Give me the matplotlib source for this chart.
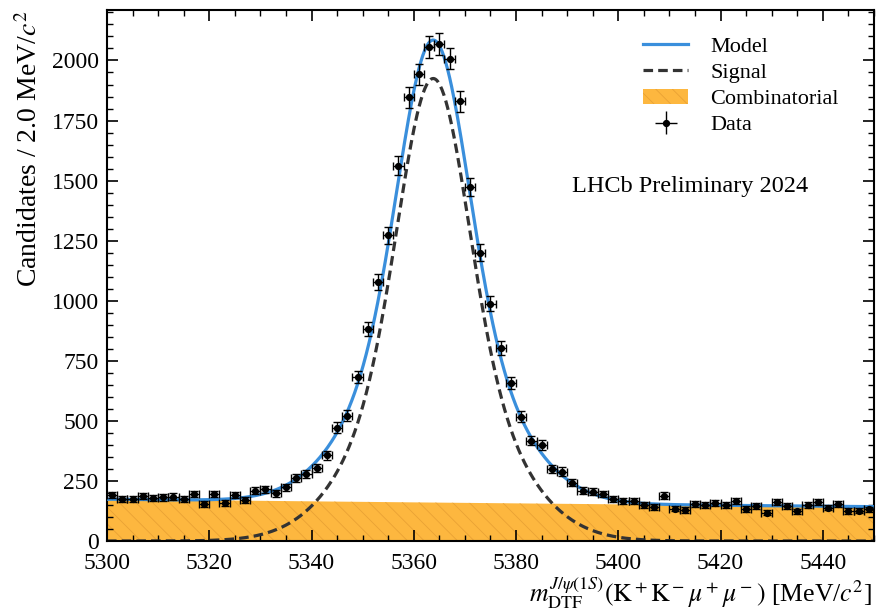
import numpy as np
import matplotlib
matplotlib.use("Agg")
import matplotlib.pyplot as plt
from matplotlib.ticker import MultipleLocator
from matplotlib.patches import Patch
from matplotlib.lines import Line2D

plt.rcParams['font.family'] = ['Liberation Serif', 'DejaVu Serif']
plt.rcParams['mathtext.fontset'] = 'stix'
plt.rcParams['hatch.linewidth'] = 0.6

# ---- data (bin centres, 2 MeV bins) ----
bin_centres = np.arange(5301, 5450, 2)
counts = [192, 175, 174, 187, 178, 182, 185, 174, 196, 154,
          196, 157, 192, 171, 210, 215, 199, 224, 261, 279,
          305, 357, 472, 521, 683, 882, 1078, 1272, 1562, 1847,
          1942, 2055, 2068, 2008, 1830, 1474, 1200, 988, 803, 657,
          518, 418, 400, 299, 289, 243, 210, 205, 196, 175,
          167, 165, 150, 143, 189, 135, 129, 153, 150, 157,
          150, 167, 133, 146, 118, 164, 147, 124, 150, 163,
          139, 153, 125, 126, 132]
bin_halfwidth = 1.0

# ---- fit model parameters ----
sig_mean = 5363.8
sig_sigma_core = 6.5
sig_sigma_wide = 13.0
sig_core_frac = 0.6
sig_peak = 1925.0
comb_start = 174.0     # combinatorial level at 5300
comb_end = 143.0       # combinatorial level at 5450

x_min, x_max = 5300, 5450
y_max = 2210

counts = np.array(counts, dtype=float)
errors = np.sqrt(counts)

xs = np.linspace(x_min, x_max, 800)
k = np.log(comb_start / comb_end) / (x_max - x_min)
comb = comb_start * np.exp(-k * (xs - x_min))
d = xs - sig_mean
signal = sig_peak * (sig_core_frac * np.exp(-d**2 / (2 * sig_sigma_core**2))
                     + (1 - sig_core_frac) * np.exp(-d**2 / (2 * sig_sigma_wide**2)))
model = signal + comb

fig = plt.figure(figsize=(8.79, 6.15), dpi=100)
ax = fig.add_axes([0.1217, 0.1203, 0.8726, 0.8634])

orange = '#FDB73F'
blue = '#3A8FDC'
dash = (0, (3.0, 1.6))
ax.fill_between(xs, 0, comb, facecolor=orange, edgecolor='#E9A235',
                hatch='\\\\', linewidth=0, zorder=1)
ax.plot(xs, signal, color='#333333', lw=2.3, ls=dash, zorder=2)
ax.plot(xs, model, color=blue, lw=2.3, zorder=3)
ax.errorbar(bin_centres, counts, yerr=errors, xerr=bin_halfwidth, fmt='o',
            color='black', ms=4.2, elinewidth=1.0, capsize=2.6, capthick=1.0,
            zorder=4)

ax.set_xlim(x_min, x_max)
ax.set_ylim(0, y_max)
ax.xaxis.set_major_locator(MultipleLocator(20))
ax.xaxis.set_minor_locator(MultipleLocator(5))
ax.yaxis.set_major_locator(MultipleLocator(250))
ax.yaxis.set_minor_locator(MultipleLocator(50))
ax.tick_params(which='both', direction='in', top=True, right=True, labelsize=17)
ax.tick_params(which='major', length=8, width=1.2)
ax.tick_params(which='minor', length=4.5, width=1.0)
ax.tick_params(axis='y', pad=6)
ax.tick_params(axis='x', pad=8.5)
for s in ax.spines.values():
    s.set_linewidth(1.5)

ax.set_ylabel(r'Candidates / 2.0 MeV/$c^2$', fontsize=20)
ax.yaxis.set_label_coords(-0.083, 1.0)
ax.yaxis.label.set_horizontalalignment('right')
ax.set_xlabel(r'$m_{\mathrm{DTF}}^{J/\psi(1S)}(\mathrm{K}^+\mathrm{K}^-\mu^+\mu^-)$ [MeV/$c^2$]',
              fontsize=18.5)
ax.xaxis.set_label_coords(0.997, -0.064)
ax.xaxis.label.set_horizontalalignment('right')

ax.text(0.606, 0.668, 'LHCb Preliminary 2024', transform=ax.transAxes,
        fontsize=17.5, va='center', ha='left')

handles = [
    Line2D([], [], color=blue, lw=2.3),
    Line2D([], [], color='#333333', lw=2.3, ls=dash),
    Patch(facecolor=orange, edgecolor='#E9A235', hatch='\\\\', linewidth=0),
    ax.errorbar([], [], yerr=[], xerr=[], fmt='o', color='black', ms=4.2,
                elinewidth=1.0, capsize=2.6),
]
ax.legend(handles, ['Model', 'Signal', 'Combinatorial', 'Data'],
          loc='upper right', bbox_to_anchor=(0.98, 0.988), frameon=False,
          fontsize=16, handlelength=2.0, labelspacing=0.25, handletextpad=1.0)

fig.savefig('out.png', dpi=100)
